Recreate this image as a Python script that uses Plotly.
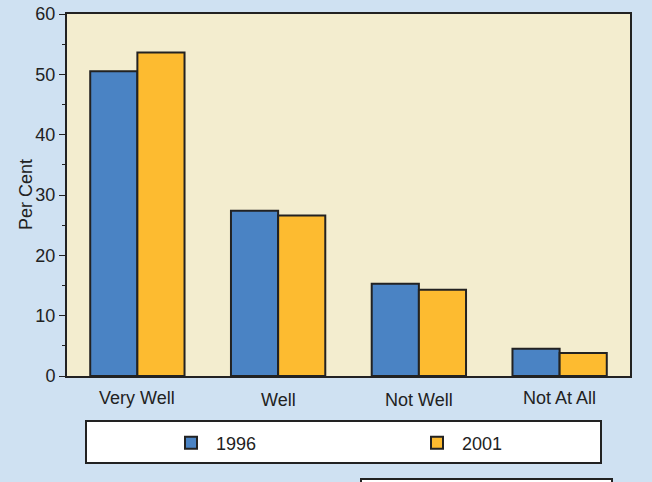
import plotly.graph_objects as go

categories = ["Very Well", "Well", "Not Well", "Not At All"]
values_1996 = [50.5, 27.4, 15.3, 4.5]
values_2001 = [53.6, 26.6, 14.3, 3.8]
series_names = ["1996", "2001"]
y_ticks = [0, 10, 20, 30, 40, 50, 60]
y_title = "Per Cent"
label_drops = [22, 24, 24, 22]

fig = go.Figure()
fig.add_bar(x=categories, y=values_1996, name=series_names[0], legend="legend",
            marker=dict(color="#4A83C4", line=dict(color="#222222", width=2)))
fig.add_bar(x=categories, y=values_2001, name=series_names[1], legend="legend2",
            marker=dict(color="#FDBB30", line=dict(color="#222222", width=2)))

W, H = 652, 482
L, R, T, B = 67, 22, 14, 106
pw, ph = W - L - R, H - T - B
def px(x): return (x - L) / pw
def py(y): return (H - B - y) / ph

annotations = [dict(x=c, y=0, xref="x", yref="y", text=c, showarrow=False,
                    yanchor="middle", yshift=-d, font=dict(size=18))
               for c, d in zip(categories, label_drops)]
annotations.append(dict(x=px(26), y=0.5, xref="paper", yref="paper", text=y_title,
                        textangle=-90, showarrow=False, xanchor="center", yanchor="middle",
                        font=dict(size=18)))

leg_common = dict(orientation="h", xanchor="left", yanchor="middle", itemwidth=40,
                  bgcolor="rgba(0,0,0,0)", font=dict(size=18))

fig.update_layout(
    width=W, height=H,
    margin=dict(l=L, r=R, t=T, b=B, autoexpand=False),
    paper_bgcolor="#CFE1F2",
    plot_bgcolor="#F3EDCF",
    font=dict(family="Liberation Sans, Arial, sans-serif", size=18, color="#222222"),
    barmode="group",
    bargap=0.33,
    bargroupgap=0,
    showlegend=True,
    legend=dict(x=px(166), y=py(443), **leg_common),
    legend2=dict(x=px(412), y=py(443), **leg_common),
    annotations=annotations,
    shapes=[
        dict(type="rect", xref="paper", yref="paper", x0=px(86), x1=px(601), y0=py(463), y1=py(421),
             line=dict(color="#222222", width=2), fillcolor="white", layer="below"),
        dict(type="rect", xref="paper", yref="paper", x0=px(361), x1=px(612), y0=py(495), y1=py(479),
             line=dict(color="#222222", width=2), fillcolor="white", layer="below"),
    ],
)
fig.update_xaxes(showline=True, linecolor="#222222", linewidth=2, mirror=True,
                 ticks="", showticklabels=False, showgrid=False)
fig.update_yaxes(range=[0, 60], tickvals=y_ticks, showline=True, linecolor="#222222",
                 linewidth=2, mirror=True, ticks="outside", ticklen=6, tickwidth=1,
                 tickcolor="#222222", showgrid=False, zeroline=False,
                 minor=dict(dtick=5, ticks="outside", ticklen=3, tickcolor="#222222"),
                 tickfont=dict(size=18))

fig.write_html("out.html", config={"displayModeBar": False},
               post_script="document.body.style.margin='0';")
